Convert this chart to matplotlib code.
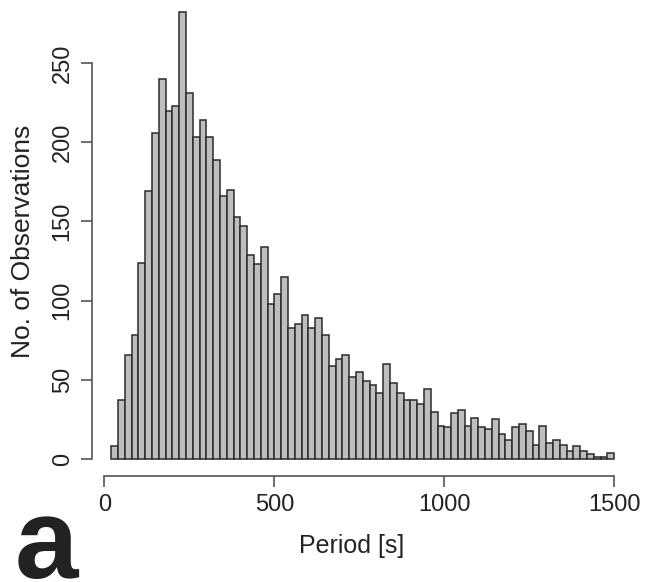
import matplotlib
matplotlib.use("Agg")
import matplotlib.pyplot as plt
import numpy as np

plt.rcParams['font.family'] = ['Liberation Sans', 'DejaVu Sans']

# Histogram: bin edges every 20 s from 20 to 1500
bin_start = 20
bin_width = 20
counts = [8, 37, 66, 78, 124, 169, 206, 240, 220, 223,
          282, 231, 203, 214, 203, 189, 166, 170, 153, 147,
          129, 123, 134, 98, 104, 115, 83, 85, 91, 83,
          89, 78, 59, 63, 66, 52, 55, 49, 47, 42,
          60, 48, 42, 37, 37, 35, 44, 30, 21, 20,
          29, 31, 21, 26, 20, 19, 25, 16, 12, 20,
          22, 18, 9, 21, 10, 12, 9, 5, 8, 5,
          3, 1, 1, 4]
x_ticks = [0, 500, 1000, 1500]
y_ticks = [0, 50, 100, 150, 200, 250]
x_label = "Period [s]"
y_label = "No. of Observations"
panel_label = "a"

W, H = 645, 582
fig = plt.figure(figsize=(W / 100, H / 100), dpi=100)
left_px, right_px, bottom_px, top_px = 91.7, 627.0, 476.0, 0.0
ax = fig.add_axes([left_px / W, 1 - bottom_px / H,
                   (right_px - left_px) / W, (bottom_px - top_px) / H])

lefts = bin_start + bin_width * np.arange(len(counts))
ax.bar(lefts, counts, width=bin_width, align='edge',
       color='#bebebe', edgecolor='#2b2b2b', linewidth=1.1)

ax.set_xlim(-37.6, 1537.6)
ax.set_ylim(-10.7, 289.8)

for s in ['top', 'right']:
    ax.spines[s].set_visible(False)
for s in ['left', 'bottom']:
    ax.spines[s].set_color('#555555')
    ax.spines[s].set_linewidth(1.2)
ax.spines['left'].set_bounds(0, 250)
ax.spines['bottom'].set_bounds(0, 1500)

ax.set_xticks(x_ticks)
ax.set_yticks(y_ticks)
ax.tick_params(axis='both', direction='out', length=8, width=1.2,
               color='#555555', labelsize=17, labelcolor='#222222', pad=5)
ax.set_yticklabels([str(v) for v in y_ticks], rotation=90, va='center')

fig.text(352 / W, 1 - 546 / H, x_label, ha='center', va='center',
         fontsize=18, color='#222222')
fig.text(23 / W, 1 - 241 / H, y_label, ha='center', va='center',
         rotation=90, fontsize=19, color='#222222')
fig.text(46 / W, 1 - 578 / H, panel_label, ha='center', va='baseline',
         fontsize=82, fontweight='bold', color='#222222')

fig.savefig("out.png", dpi=100)
